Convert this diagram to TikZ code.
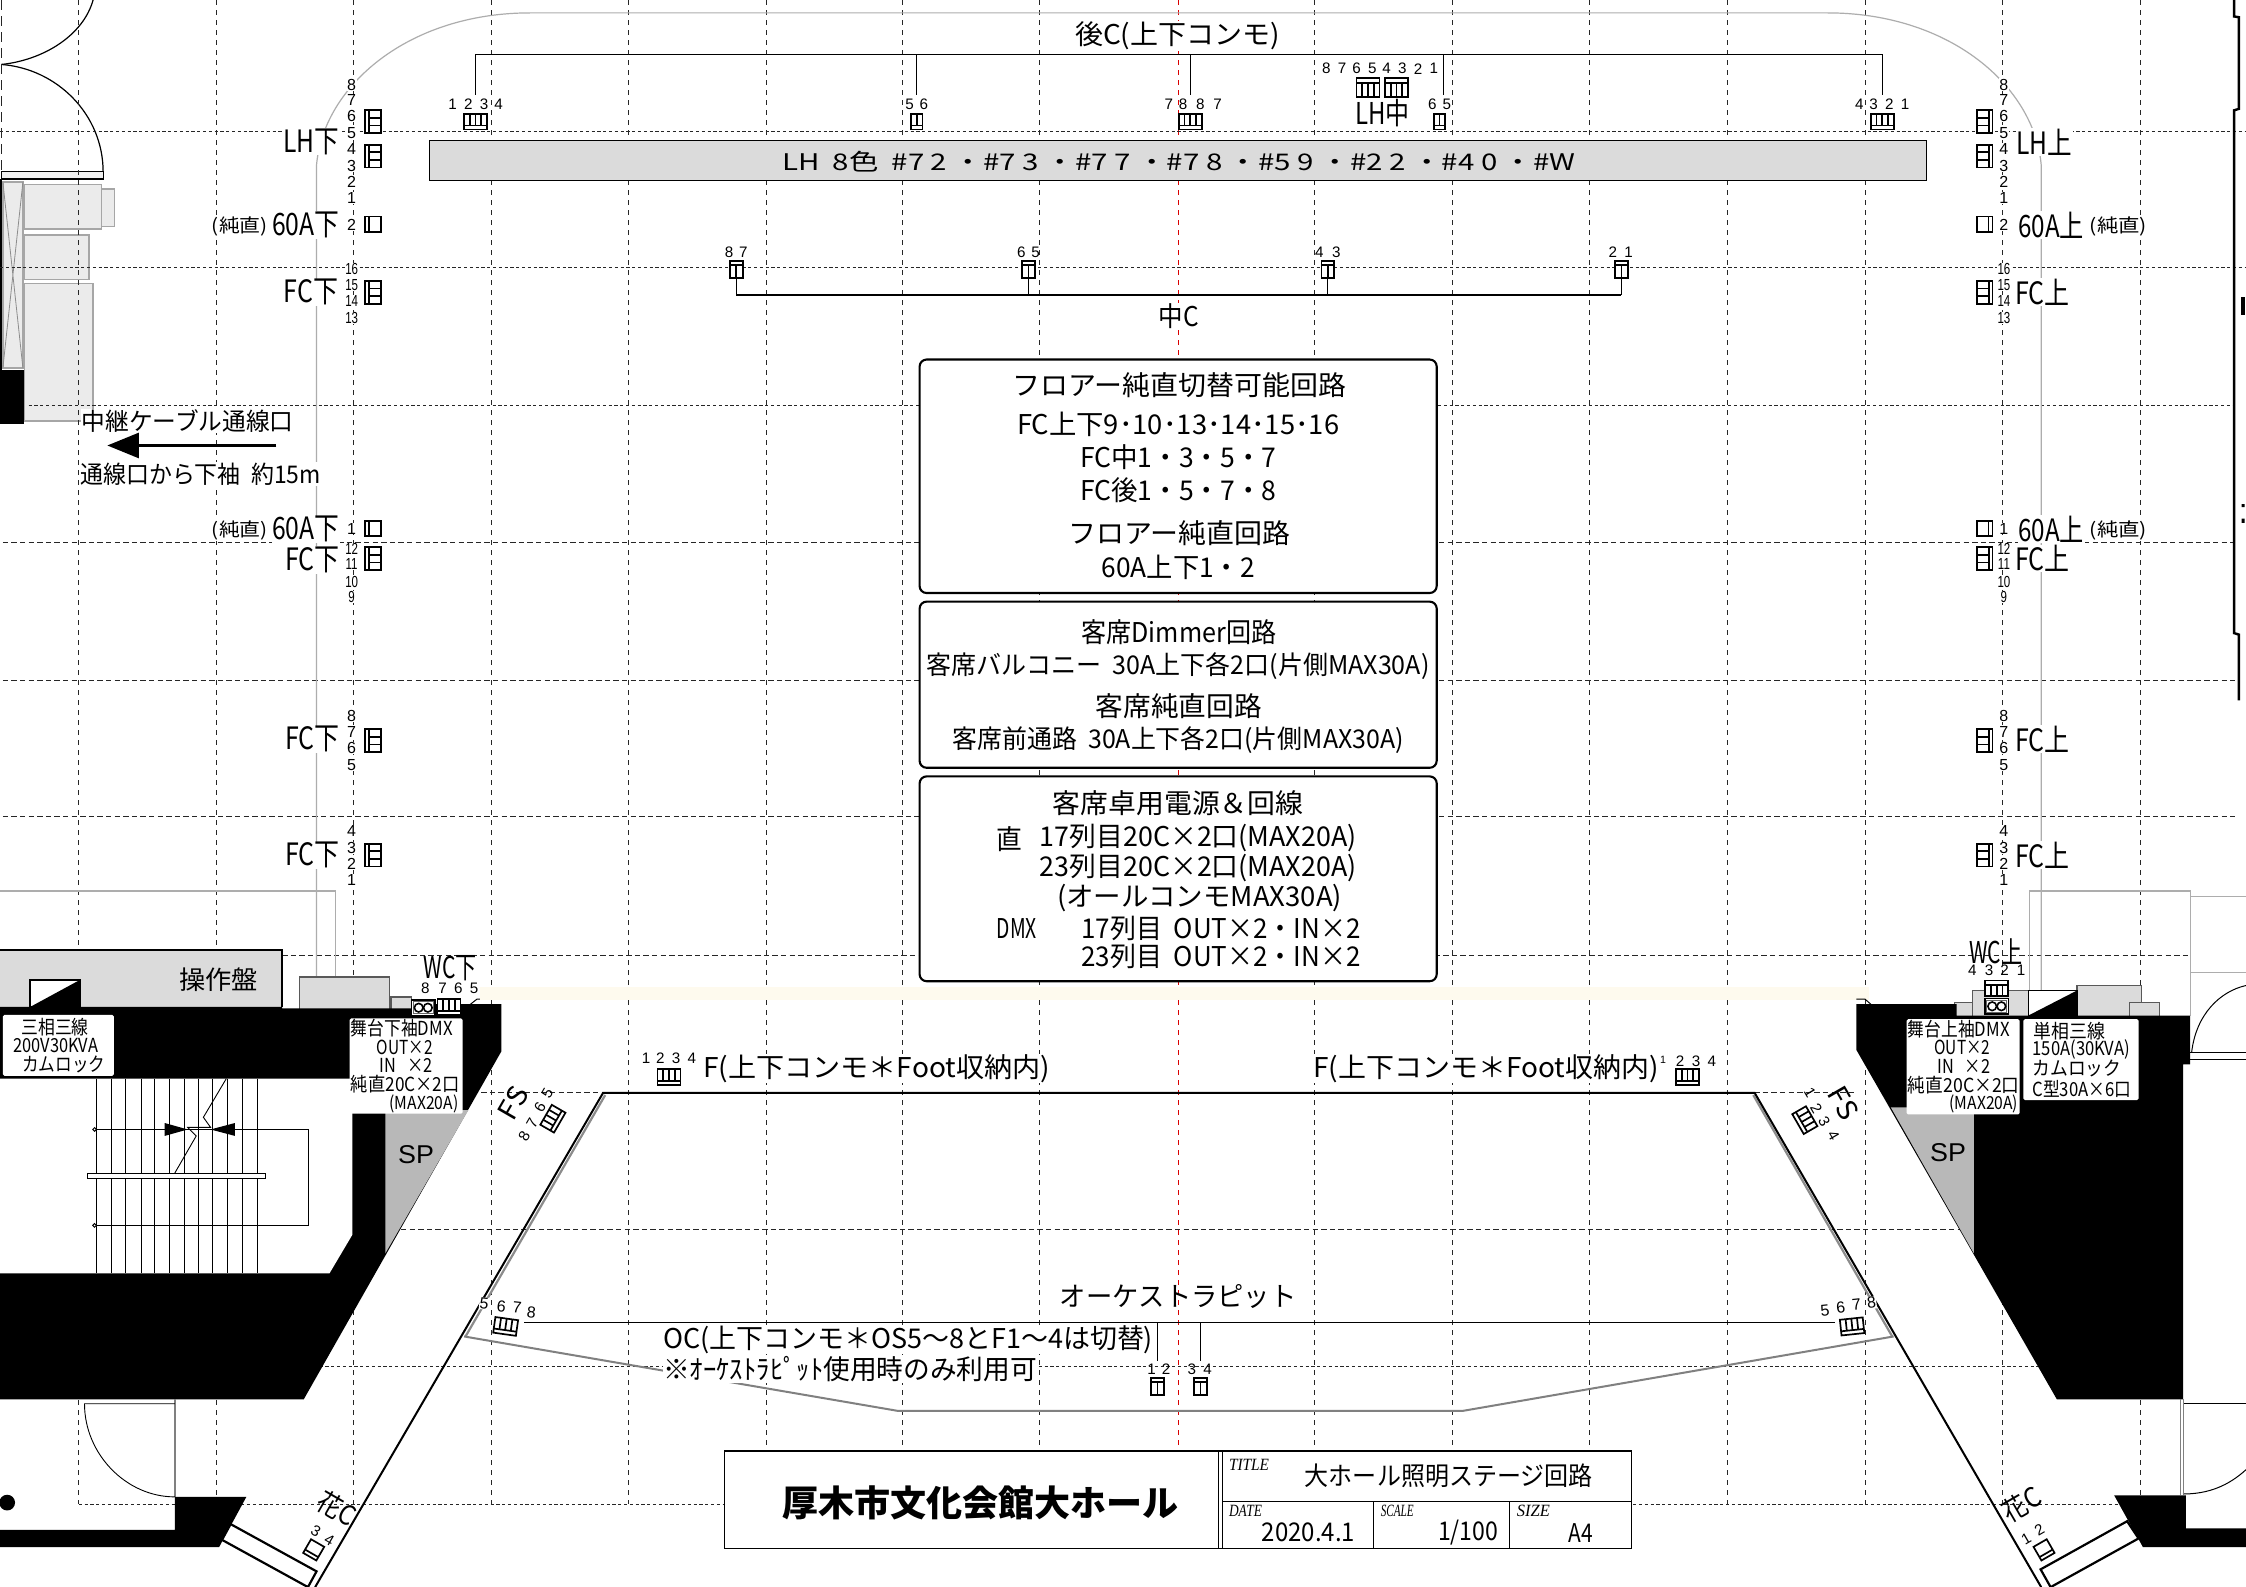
\documentclass[tikz,border=0pt]{standalone}
\usepackage{fontspec}
\usepackage{graphicx}
\newfontfamily\jp{Noto Sans CJK JP}
\newfontfamily\arl{Liberation Sans}
\newfontfamily\srf{Liberation Serif}
\definecolor{cream}{RGB}{254,250,238}
\newsavebox\fwb
% width (picture units), font size (picture units), text
\newcommand\fw[3]{\pgfmathsetmacro\fws{#2*0.7162}\fontsize{\fws pt}{\fws pt}\selectfont\sbox\fwb{#3}\pgfmathsetmacro\fwr{#1*0.7162/\wd\fwb}\scalebox{\fwr}[1]{\usebox\fwb}}
\tikzset{
 lbl/.style={inner sep=0.3pt,font=\jp,fill=white},
 lbn/.style={inner sep=0pt,font=\jp},
 ttl/.style={inner sep=0pt,font=\srf\itshape},
 num/.style={inner sep=0.2pt,font=\arl\fontsize{8pt}{8pt}\selectfont,fill=white},
 numn/.style={num,xscale=.72},
 numc/.style={inner sep=0pt,font=\arl\fontsize{7.6pt}{8pt}\selectfont},
 gridv/.style={line width=.5pt,dash pattern=on 2.5pt off 2.5pt,black!85},
 gridh/.style={line width=.5pt,dash pattern=on 2.7pt off 1.6pt,black!85},
 gridd/.style={line width=.5pt,dash pattern=on 1.6pt off 1.3pt,black!85},
 wire/.style={line width=.6pt,black},
 sk/.style={line width=.85pt,black,fill=white},
 roundbox/.style={line width=1.05pt,rounded corners=3.5pt,fill=white,draw=black},
 gryline/.style={line width=.6pt,black!32},
 cab/.style={line width=.7pt,black!35,fill=black!8},
 pnl/.style={line width=.6pt,black!65,fill=black!14},
 whitebox/.style={fill=white,draw=none,rounded corners=.8pt},
}
% x,y,rot,cells : socket with a bar at the bottom
\newcommand\sockB[4]{\begin{scope}[shift={(#1,#2)},rotate=#3]
 \pgfmathsetmacro\hw{#4*2}\draw[sk] (-\hw,-5.5) rectangle (\hw,5.5);
 \draw[sk] (-\hw,2.6) -- (\hw,2.6);
 \pgfmathtruncatemacro\nn{#4-1}\foreach \k in {1,...,\nn}{\draw[sk] ({-\hw+4*\k},-5.5) -- ({-\hw+4*\k},2.6);}
 \end{scope}}
% x,y,rot : side socket, three cells
\newcommand\sockV[3]{\begin{scope}[shift={(#1,#2)},rotate=#3]
 \draw[sk] (-8,-5.5) rectangle (8,5.5);\draw[sk] (-8,3) -- (8,3);
 \draw[sk] (-2.7,-5.5) -- (-2.7,3);\draw[sk] (2.7,-5.5) -- (2.7,3);
 \end{scope}}
% x,y,rot : plain side socket
\newcommand\sockU[3]{\begin{scope}[shift={(#1,#2)},rotate=#3]
 \draw[sk] (-5.3,-5.5) rectangle (5.3,5.5);\draw[sk] (-5.3,2.8) -- (5.3,2.8);
 \end{scope}}
% x,y : four cell socket with a bar at the top (LH centre)
\newcommand\sockT[2]{\begin{scope}[shift={(#1,#2)}]
 \draw[sk] (-8,-6.5) rectangle (8,6.5);\draw[sk] (-8,-3) -- (8,-3);
 \foreach \k in {-4,0,4}{\draw[sk] (\k,-3) -- (\k,6.5);}
 \end{scope}}
% x,y : small two cell socket (centre, pit)
\newcommand\sockS[2]{\begin{scope}[shift={(#1,#2)}]
 \draw[sk] (-4.5,-6) rectangle (4.5,6);\draw[sk] (-4.5,-3.2) -- (4.5,-3.2);\draw[sk] (0,-3.2) -- (0,6);
 \end{scope}}
% x,y : connector box with two rings
\newcommand\ringbox[2]{\begin{scope}[shift={(#1,#2)}]
 \draw[line width=.85pt,fill=white] (-8.2,-5.5) rectangle (8.2,5.5);
 \draw[line width=.6pt,black!60] (-7,-4.3) rectangle (7,4.3);
 \draw[line width=.8pt] (-3.2,0) circle (3);\draw[line width=.8pt] (3.2,0) circle (3);
 \end{scope}}
\begin{document}
\begin{tikzpicture}[x=.7162pt,y=-.7162pt]
\useasboundingbox (0,0) rectangle (1568,1107.9);
\fill[white] (0,0) rectangle (1568,1107.9);

% --- cabinets behind the grid ---------------------------------
\draw[cab] (17,129) rectangle (71,160);
\draw[cab] (71,132) rectangle (80,158);
\draw[cab] (17,164) rectangle (62,195);
\draw[cab] (17,198) rectangle (65,294);
\draw[cab] (2,127) rectangle (16,257);
\draw[line width=.4pt,black!45] (2,127) -- (16,257) (16,127) -- (2,257);
\fill (0,258) rectangle (17,296);
\draw[line width=.9pt] (.8,125) -- (.8,258);
\draw[line width=.6pt,fill=black!6] (1,120) rectangle (72,125);
\draw[line width=.6pt] (65,0) .. controls (58,25) and (30,42) .. (1,45);
\draw[line width=.6pt] (1,45) .. controls (40,48) and (72,80) .. (72,120);

% --- grid ------------------------------------------------------
\foreach \x in {55,151,247,343,439,535,630,726,918,1014,1110,1206,1302,1398,1494}
 {\draw[gridv] (\x,0) -- (\x,1050);}
\draw[gridv,red!85!black] (823,0) -- (823,1014);
\draw[gridv,dash pattern=on 5pt off 3pt] (1,0) -- (1,120);
\foreach \y in {92,187}{\draw[gridd] (0,\y) -- (1568,\y);}
\draw[gridd] (20,283) -- (1560,283);
\foreach \y in {379,475,570}{\draw[gridh] (2,\y) -- (1560,\y);}
\draw[gridh] (197,667) -- (1529,667);
\draw[gridh] (330,763) -- (1296,763);
\draw[gridh] (280,858) -- (1380,858);
\draw[gridd] (215,954) -- (1450,954);
\draw[gridd] (55,1050) -- (1490,1050);

% --- far right wall --------------------------------------------
\draw[line width=1.2pt] (1559.7,0) -- (1559.7,11.5) -- (1563,12) -- (1563,76) -- (1559.7,77) -- (1559.7,442) -- (1563,443) -- (1563,489);
\fill (1564.5,207) rectangle (1567,220);
\fill (1565,352) rectangle (1567,354) (1565,362) rectangle (1567,365);

% --- house outline ---------------------------------------------
\draw[gryline] (221,683) -- (221,115) .. controls (226,60) and (285,9) .. (370,9) -- (1276,9) .. controls (1361,9) and (1420,60) .. (1425,115) -- (1425,691);
\draw[gryline] (0,622) -- (234,622) -- (234,683);
\draw[gryline] (1417,691) -- (1417,622) -- (1529,622) -- (1529,709);
\draw[gryline] (1529,626) -- (1568,626) (1529,679) -- (1568,679);

% --- LH bar ----------------------------------------------------
\draw[line width=.6pt,fill=black!14] (300,98) rectangle (1345,126);
\node[lbn] (lhbar) at (823,113) {\fw{554}{16}{LH\ \ 8色\ \ \#7 2 ・\#7 3 ・\#7 7 ・\#7 8 ・\#5 9 ・\#2 2 ・\#4 0 ・\#W}};

% --- back bracket ----------------------------------------------
\coordinate (bkL) at (332,38);\coordinate (bkR) at (1314,38);
\coordinate (bk56) at (640,38);\coordinate (bk78) at (831,38);\coordinate (bk65) at (1008,38);
\coordinate (s1t) at (332,66);\coordinate (s2t) at (640,66);\coordinate (s3t) at (831,66);\coordinate (s4t) at (1008,66);\coordinate (s5t) at (1314,66);
\draw[wire] (s1t) -- (bkL) -- (bkR) -- (s5t);
\draw[wire] (bk56) -- (s2t);\draw[wire] (bk78) -- (s3t);\draw[wire] (bk65) -- (s4t);
\node[lbl] (backc) at (822,25) {\fw{143}{19}{後C(上下コンモ)}};
\sockB{332}{85}{0}{4}\sockB{640}{85}{0}{2}\sockB{831}{85}{0}{4}\sockB{1005}{85}{0}{2}\sockB{1314}{85}{0}{4}
\sockT{955}{61}\sockT{975}{61}
\node[lbl,fill=none] (lhc) at (965,79) {\fw{38}{21}{LH中}};
\foreach \t/\x in {1/316,2/327,3/338,4/348,5/635,6/645,7/816,8/826,18/838,17/850,16/1000,15/1010,14/1298,13/1308,12/1319,11/1330}{
  \pgfmathtruncatemacro\tt{mod(\t,10)}
  \node[numc] (na\x) at (\x,73) {\tt};}
\foreach \t/\x in {8/926,7/937,6/947,5/958,4/968,3/979,2/990,1/1001}{\node[numc] (nb\x) at (\x,48) {\t};}

% --- side columns ----------------------------------------------
\foreach \xx/\rr/\tag in {245.5/-90/l,1399/90/r}{
  \foreach \t/\y in {8/59,7/70,6/81,5/93,4/104,3/116,2/127,1/138,2/157,1/369,8/500,7/511,6/522,5/534,4/580,3/592,2/603,1/614}
   {\node[num] (c\tag\y) at (\xx,\y) {\t};}
  \foreach \t/\y in {16/188,15/199,14/210,13/222,12/383,11/394,10/406,9/417}
   {\node[numn] (c\tag\y) at (\xx,\y) {\t};}
}
\foreach \y in {85,109,204,390,517,597}{\sockV{260.5}{\y}{-90}\sockV{1385.5}{\y}{90}}
\foreach \y in {156.5,369}{\sockU{260.5}{\y}{-90}\sockU{1385.5}{\y}{90}}

\node[lbl] (lhd) at (217.5,99) {\fw{39}{21.5}{LH下}};
\node[lbl] (a2d) at (213.5,157) {\fw{47}{21.5}{60A下}};
\node[lbl] (j2d) at (167.5,158) {\fw{39}{13}{(純直)}};
\node[lbl] (fc1d) at (217,204) {\fw{38}{21.5}{FC下}};
\node[lbl] (a1d) at (213.5,369.5) {\fw{47}{21.5}{60A下}};
\node[lbl] (j1d) at (167.5,370.5) {\fw{39}{13}{(純直)}};
\node[lbl] (fc2d) at (218,391) {\fw{38}{21.5}{FC下}};
\node[lbl] (fc3d) at (218,516) {\fw{38}{21.5}{FC下}};
\node[lbl] (fc4d) at (218,597) {\fw{38}{21.5}{FC下}};

\node[lbl] (lhu) at (1427,99) {\fw{39}{21.5}{LH上}};
\node[lbl] (a2u) at (1432,157) {\fw{46}{21.5}{60A上}};
\node[lbl] (j2u) at (1479,158) {\fw{40}{13}{(純直)}};
\node[lbl] (fc1u) at (1426,204) {\fw{38}{21.5}{FC上}};
\node[lbl] (a1u) at (1432,369.5) {\fw{46}{21.5}{60A上}};
\node[lbl] (j1u) at (1479,370.5) {\fw{40}{13}{(純直)}};
\node[lbl] (fc2u) at (1426,390) {\fw{38}{21.5}{FC上}};
\node[lbl] (fc3u) at (1426,516) {\fw{38}{21.5}{FC上}};
\node[lbl] (fc4u) at (1426,597) {\fw{38}{21.5}{FC上}};

% --- centre bracket --------------------------------------------
\coordinate (mL) at (514,206);\coordinate (mR) at (1132,206);\coordinate (m2) at (718,206);\coordinate (m3) at (927,206);
\coordinate (ms1) at (514,194);\coordinate (ms2) at (718,194);\coordinate (ms3) at (927,194);\coordinate (ms4) at (1132,194);
\draw[line width=.9pt] (mL) -- (mR);
\draw[wire] (mL) -- (ms1);\draw[wire] (m2) -- (ms2);\draw[wire] (m3) -- (ms3);\draw[wire] (mR) -- (ms4);
\sockS{514}{188}\sockS{718}{188}\sockS{927}{188}\sockS{1132}{188}
\foreach \t/\x in {8/509,7/519,6/713,5/723,4/921,3/933,2/1126,1/1137}{\node[numc] (nm\x) at (\x,176) {\t};}
\node[lbl] (midc) at (823,221) {\fw{28}{19}{中C}};

% --- cable passage ---------------------------------------------
\node[lbl] (cb1) at (131,294) {\fw{148}{17}{中継ケーブル通線口}};
\node[lbl] (cb2) at (140,331) {\fw{168}{17}{通線口から下袖\ \ 約15m}};
\coordinate (arS) at (193,311);\coordinate (arE) at (95,311);
\draw[line width=1.7pt] (arS) -- (arE);
\fill (75,311) -- (97,302) -- (97,320) -- cycle;

% --- info boxes ------------------------------------------------
\draw[roundbox] (642,251) rectangle (1003,414);
\draw[roundbox] (642,420) rectangle (1003,536);
\draw[roundbox] (642,542) rectangle (1003,685);
\node[lbn] (b1a) at (823.5,269) {\fw{233}{19}{フロアー純直切替可能回路}};
\node[lbn] (b1b) at (822.5,296) {\fw{225}{19}{FC上下9･10･13･14･15･16}};
\node[lbn] (b1c) at (822.5,319) {\fw{137}{19}{FC中1・3・5・7}};
\node[lbn] (b1d) at (822.5,342) {\fw{137}{19}{FC後1・5・7・8}};
\node[lbn] (b1e) at (823.5,372) {\fw{155}{19}{フロアー純直回路}};
\node[lbn] (b1f) at (822.5,396) {\fw{107}{19}{60A上下1・2}};
\node[lbn] (b2a) at (823,441) {\fw{136}{19}{客席Dimmer回路}};
\node[lbn] (b2b) at (822.5,465) {\fw{351}{18}{客席バルコニー\ \ 30A上下各2口(片側MAX30A)}};
\node[lbn] (b2c) at (823,493) {\fw{116}{19}{客席純直回路}};
\node[lbn] (b2d) at (822.5,517) {\fw{315}{18}{客席前通路\ \ 30A上下各2口(片側MAX30A)}};
\node[lbn] (b3a) at (822.5,561) {\fw{175}{19}{客席卓用電源＆回線}};
\node[lbn] (b3b) at (705,586) {\fw{18}{19}{直}};
\node[lbn] (b3c) at (836.5,585) {\fw{221}{19}{17列目20C×2口(MAX20A)}};
\node[lbn] (b3d) at (836.5,606) {\fw{221}{19}{23列目20C×2口(MAX20A)}};
\node[lbn] (b3e) at (837.5,627) {\fw{199}{19}{(オールコンモMAX30A)}};
\node[lbn] (b3f) at (710,648) {\fw{28}{19}{DMX}};
\node[lbn] (b3g) at (852.5,648) {\fw{195}{19}{17列目\ \ OUT×2・IN×2}};
\node[lbn] (b3h) at (852.5,668) {\fw{195}{19}{23列目\ \ OUT×2・IN×2}};

% --- left wing -------------------------------------------------
\fill[fill=black!14!white,draw=none] (0,663) rectangle (197,703);
\draw[line width=1.1pt] (0,663) -- (197,663) -- (197,703);
\node[lbn] (sosa) at (152.5,684) {\fw{55}{18}{操作盤}};
\draw[pnl] (209,682) rectangle (272,705);
\draw[pnl] (273,696) rectangle (287,705);
\fill (0,703) -- (197,703) -- (197,704) -- (290,704) -- (290,701) -- (350,701) -- (350,734) -- (212,977) -- (0,977) -- cycle;
\fill[white] (0,753) -- (246,753) -- (246,862) -- (230,889) -- (0,889) -- cycle;
\fill[black!28] (269,775) -- (327,775) -- (269,875) -- cycle;
% stairs
\foreach \x in {67,77.5,87.5,98.5,108,118,128.6,138.6,148.6,159,169,180}{\draw[line width=.45pt] (\x,753) -- (\x,889);}
\draw[line width=.45pt] (66,788.5) -- (215,788.5) -- (215,855.5) -- (66,855.5);
\draw[line width=.45pt,fill=white] (66,788.5) circle (1.3);
\draw[line width=.45pt,fill=white] (66,855.5) circle (1.3);
\draw[line width=.45pt,fill=white] (61,819) rectangle (185,823);
\fill (131,788.5) -- (115,784) -- (115,793) -- cycle;
\fill (147,788.5) -- (164,784) -- (164,793) -- cycle;
\draw[line width=.45pt] (158,753) -- (142,780) -- (147,787) -- (131,787) -- (137,793) -- (122,819);
% panel with diagonal
\draw[line width=1.1pt,fill=white] (21,684) rectangle (56,703);
\fill (21,703) -- (56,684) -- (56,703) -- cycle;
% labels on the black wall
\draw[whitebox] (2,708.5) rectangle (79.5,751);
\node[lbn] (l3a) at (38.5,717) {\fw{47}{13.5}{三相三線}};
\node[lbn] (l3b) at (39,730) {\fw{59}{13.5}{200V30KVA}};
\node[lbn] (l3c) at (44.5,743) {\fw{58}{13.5}{カムロック}};
\draw[whitebox] (244,711) rectangle (323,777.5);
\node[lbn] (ldm1) at (280.5,717.5) {\fw{71}{13.5}{舞台下袖DMX}};
\node[lbn] (ldm2) at (282.5,731) {\fw{39}{13.5}{OUT×2}};
\node[lbn] (ldm3) at (283.5,743.5) {\fw{37}{13.5}{IN\ \ \ ×2}};
\node[lbn] (ldm4) at (283,757) {\fw{76}{13.5}{純直20C×2口}};
\node[lbn] (ldm5) at (296,770.5) {\fw{48}{12.5}{(MAX20A)}};
\node[lbn,font=\arl] (spl) at (290.5,806) {\fw{25}{18}{SP}};
% WC lower
\node[lbl,fill=none] (wcd) at (314.5,676) {\fw{37}{21}{WC下}};
\foreach \t/\x in {8/297,7/309,6/320,5/331}{\node[numc] (wd\x) at (\x,690) {\t};}
\fill[cream] (335,689) rectangle (1305,698);
\draw[line width=.5pt] (326,703) -- (333,697.5) -- (335,697.5);
\ringbox{295.5}{703.5}
\sockB{313.5}{703}{0}{4}

% --- right wing ------------------------------------------------
\draw[pnl] (1364.5,700) rectangle (1377,710);
\draw[pnl] (1377,691.5) rectangle (1416,710);
\draw[pnl] (1450,688) rectangle (1495,710);
\draw[pnl] (1486.5,700) rectangle (1507.6,710);
\draw[line width=.7pt,fill=white] (1416,691.5) rectangle (1450,709);
\fill (1416,709) -- (1450,691.5) -- (1450,709) -- cycle;
\fill (1296,701) -- (1366,701) -- (1366,709) -- (1529,709) -- (1529,743) -- (1524,743) -- (1524,977) -- (1436,977) -- (1296,733) -- cycle;
\fill[black!28] (1320,773) -- (1378,773) -- (1378,875) -- cycle;
\draw[line width=.5pt] (1296,697.5) -- (1302,697.5) -- (1306,701);
\draw[whitebox] (1331,711.5) rectangle (1410,778);
\node[lbn] (rdm1) at (1367.5,718.5) {\fw{71}{13.5}{舞台上袖DMX}};
\node[lbn] (rdm2) at (1370,731.5) {\fw{39}{13.5}{OUT×2}};
\node[lbn] (rdm3) at (1371,744.5) {\fw{37}{13.5}{IN\ \ \ ×2}};
\node[lbn] (rdm4) at (1371,757.5) {\fw{78}{13.5}{純直20C×2口}};
\node[lbn] (rdm5) at (1385,771) {\fw{48}{12.5}{(MAX20A)}};
\draw[whitebox] (1412.5,711.5) rectangle (1493,768);
\node[lbn] (r3a) at (1444.5,720) {\fw{50}{13.5}{単相三線}};
\node[lbn] (r3b) at (1453,733) {\fw{68}{13.5}{150A(30KVA)}};
\node[lbn] (r3c) at (1450,746) {\fw{62}{13.5}{カムロック}};
\node[lbn] (r3d) at (1453.5,760) {\fw{69}{13.5}{C型30A×6口}};
\node[lbn,font=\arl] (spr) at (1360,805) {\fw{25}{18}{SP}};
\node[lbl,fill=none] (wcu) at (1393.5,664) {\fw{37}{21}{WC上}};
\foreach \t/\x in {4/1377,3/1388.7,2/1399.5,1/1411}{\node[numc] (wu\x) at (\x,677.5) {\t};}
\sockB{1394}{690}{180}{4}
\ringbox{1394}{702.5}
% right room
\draw[line width=.5pt] (1530,735) .. controls (1533,708) and (1550,692) .. (1568,688);
\draw[line width=.5pt] (1529,735) -- (1568,735) (1524,740) -- (1568,740);
\draw[line width=.5pt] (1524,980) -- (1568,980);
\draw[line width=.5pt] (1524,1043) .. controls (1542,1043) and (1556,1037) .. (1568,1026);
\draw[line width=.5pt,black!50] (1522,977) -- (1522,1044) (1524,977) -- (1524,1044);
\fill (1476,1044) -- (1526,1044) -- (1526,1067) -- (1568,1067) -- (1568,1080) -- (1496,1080) -- cycle;

% --- lower left room -------------------------------------------
\draw[line width=1pt,black!50] (122,977) -- (122,1045);
\draw[line width=.45pt] (122,980) -- (59,980) .. controls (59,1015) and (88,1045) .. (122,1045);
\fill (122,1045) -- (172,1045) -- (153,1080) -- (0,1080) -- (0,1068) -- (122,1068) -- cycle;
\fill (5,1049) circle (5.5);

% --- stage -----------------------------------------------------
\draw[line width=1.1pt,fill=white] (161,1064) -- (221,1097) -- (215,1108) -- (155,1075) -- cycle;
\draw[line width=1.1pt,fill=white] (1485,1062) -- (1424.6,1095.6) -- (1431.6,1108) -- (1493,1074) -- cycle;
\draw[line width=1.1pt,black!45] (422.5,764.5) -- (325,933);
\draw[line width=1.1pt,black!45] (1224,764.5) -- (1321,933);
\draw[line width=1pt] (220,1108) -- (421,763) -- (1225,763) -- (1425,1108);
\coordinate (pL) at (324,933);\coordinate (pR) at (1322,933);
\draw[line width=1pt,black!50] (pL) -- (627,985) -- (1021,985) -- (pR);
% pit wires
\coordinate (oL) at (366,923);\coordinate (oR) at (1281,923);
\draw[wire] (oL) -- (oR);
\coordinate (oa) at (808,923);\coordinate (ob) at (838,923);\coordinate (oc) at (808,950);\coordinate (od) at (838,950);
\draw[wire] (oa) -- (oc);\draw[wire] (ob) -- (od);
\sockS{808}{968}\sockS{838}{968}
\foreach \t/\x in {1/804,2/814,3/832,4/843}{\node[numc] (np\x) at (\x,956) {\t};}
\node[lbl,fill=none] (pit) at (822.5,905) {\fw{165}{19}{オーケストラピット}};
\node[lbl] (oc1) at (634,935) {\fw{342}{19}{OC(上下コンモ＊OS5～8とF1～4は切替)}};
\node[lbl] (oc2) at (593.5,956) {\fw{261}{19}{※ｵｰｹｽﾄﾗﾋﾟｯﾄ使用時のみ利用可}};
% foot
\node[lbl] (fl) at (612,746) {\fw{242}{19}{F(上下コンモ＊Foot収納内)}};
\node[lbl] (fr) at (1037.5,746) {\fw{241}{19}{F(上下コンモ＊Foot収納内)}};
\sockB{467}{752}{0}{4}\sockB{1178}{752}{0}{4}
\foreach \t/\x in {1/451,2/461,3/472,4/483}{\node[numc] (nfl\x) at (\x,739) {\t};}
\foreach \t/\x in {2/1173,3/1184,4/1195}{\node[numc] (nfr\x) at (\x,741) {\t};}
\node[numc,scale=.7] (nfr1) at (1161,740) {1};
% FS
\node[lbl,fill=none,rotate=60] (fsl) at (358.5,770) {\fw{23}{19}{FS}};
\foreach \t/\x/\y in {8/366/793,7/371.5/784,6/377/773,5/382/763}{\node[numc,rotate=60] (fsl\t) at (\x,\y) {\t};}
\sockB{386}{781}{60}{4}
\node[lbl,fill=none,rotate=-60] (fsr) at (1287,770) {\fw{23}{19}{FS}};
\foreach \t/\x/\y in {1/1263.6/763,2/1268/773.6,3/1273.5/783,4/1280/793}{\node[numc,rotate=-60] (fsr\t) at (\x,\y) {\t};}
\sockB{1260}{782}{-60}{4}
% OS
\foreach \t/\x/\y in {5/338/910,6/350/912,7/361/913,8/371/916}{\node[num,rotate=-6] (osl\t) at (\x,\y) {\t};}
\sockB{353}{926}{-8}{4}
\foreach \t/\x/\y in {5/1274/915,6/1285/913,7/1296/911,8/1306.6/909.5}{\node[num,rotate=6] (osr\t) at (\x,\y) {\t};}
\sockB{1293}{926}{6}{4}
% flower
\node[lbl,fill=none,rotate=-30] (hl) at (235,1053) {\fw{28}{19}{花C}};
\foreach \t/\x/\y in {3/220.5/1069,4/230/1075}{\node[numc,rotate=-30] (hln\t) at (\x,\y) {\t};}
\sockU{219}{1082}{-30}
\node[lbl,fill=none,rotate=30] (hr) at (1411.5,1050) {\fw{28}{19}{花C}};
\foreach \t/\x/\y in {1/1414.6/1074,2/1423.7/1068}{\node[numc,rotate=30] (hrn\t) at (\x,\y) {\t};}
\sockU{1427}{1082}{30}

% --- title block -----------------------------------------------
\draw[line width=.6pt,fill=white] (506,1013) rectangle (1139,1081);
\draw[line width=.5pt] (851,1013) -- (851,1081) (853.5,1013) -- (853.5,1081);
\draw[line width=.6pt] (853.5,1048) -- (1139,1048);
\draw[line width=.5pt] (959,1048) -- (959,1081) (1054,1048) -- (1054,1081);
\node[lbn,font=\jp\bfseries] (hall) at (684.5,1049) {\fw{277}{25}{厚木市文化会館大ホール}};
\node[ttl] (tt) at (872,1023) {\fw{28}{12}{TITLE}};
\node[lbn] (tv) at (1011.5,1030) {\fw{201}{18}{大ホール照明ステージ回路}};
\node[ttl] (td) at (869.5,1055) {\fw{23}{12}{DATE}};
\node[lbn] (dv) at (913.5,1070) {\fw{65}{18}{2020.4.1}};
\node[ttl] (ts) at (975.5,1055) {\fw{23}{12}{SCALE}};
\node[lbn] (sv) at (1025,1070) {\fw{42}{18}{1/100}};
\node[ttl] (tz) at (1070.5,1055) {\fw{23}{12}{SIZE}};
\node[lbn] (zv) at (1103.5,1070) {\fw{17}{18}{A4}};
\end{tikzpicture}
\end{document}
